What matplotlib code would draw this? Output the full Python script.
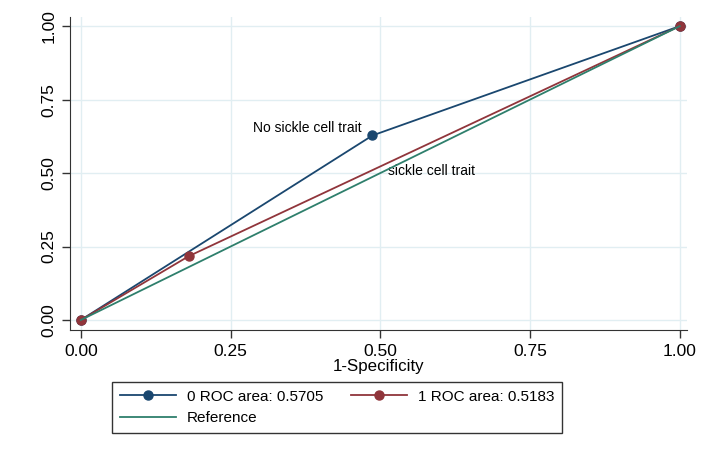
import matplotlib.pyplot as plt

plt.rcParams['font.family'] = ['Liberation Sans', 'DejaVu Sans']

# ROC points (1-specificity, sensitivity)
fpr0 = [0.0, 0.487, 1.0]
tpr0 = [0.0, 0.628, 1.0]
fpr1 = [0.0, 0.180, 1.0]
tpr1 = [0.0, 0.217, 1.0]
ref = [0.0, 1.0]
ticks = [0.0, 0.25, 0.5, 0.75, 1.0]
tick_labels = ["0.00", "0.25", "0.50", "0.75", "1.00"]
labels = ["0 ROC area: 0.5705", "1 ROC area: 0.5183", "Reference"]

c_blue = "#1a476f"
c_red = "#90353b"
c_green = "#2e7f6c"

fig = plt.figure(figsize=(7.06, 4.55), dpi=100)
ax = fig.add_axes([0.0992, 0.2747, 0.8738, 0.6879])

h0, = ax.plot(fpr0, tpr0, color=c_blue, lw=1.3, marker="o", ms=6.5, label=labels[0], zorder=3)
h1, = ax.plot(fpr1, tpr1, color=c_red, lw=1.3, marker="o", ms=6.5, label=labels[1], zorder=4)
h2, = ax.plot(ref, ref, color=c_green, lw=1.3, label=labels[2], zorder=5)

# marker labels
ax.text(0.469, 0.653, "No sickle cell trait", ha="right", va="center", fontsize=10)
ax.text(0.513, 0.507, "sickle cell trait", ha="left", va="center", fontsize=10)

ax.set_xlim(-0.018, 1.012)
ax.set_ylim(-0.034, 1.031)
ax.set_xticks(ticks)
ax.set_xticklabels(tick_labels, fontsize=12.5)
ax.set_yticks(ticks)
ax.set_yticklabels(tick_labels, fontsize=12.5, rotation=90, va="center")
ax.tick_params(direction="out", length=6, width=1, color="#333333", pad=4)
ax.grid(True, color="#e1eef2", lw=1)
ax.set_axisbelow(True)
for s in ["top", "right"]:
    ax.spines[s].set_visible(False)
for s in ["left", "bottom"]:
    ax.spines[s].set_color("#333333")
ax.set_xlabel("1-Specificity", fontsize=12.2, labelpad=0)

# order so rows read: 0 ROC | 1 ROC / Reference
leg = fig.legend([h0, h2, h1], [labels[0], labels[2], labels[1]],
                 loc="upper left", bbox_to_anchor=(0.1586, 0.1604), ncol=2, fontsize=11,
                 frameon=True, fancybox=False, edgecolor="#333333", framealpha=1,
                 handlelength=3.7, columnspacing=1.8, handletextpad=0.7,
                 borderpad=0.5, labelspacing=0.5, borderaxespad=0)
leg.get_frame().set_linewidth(1)

fig.savefig("out.png", dpi=100)
